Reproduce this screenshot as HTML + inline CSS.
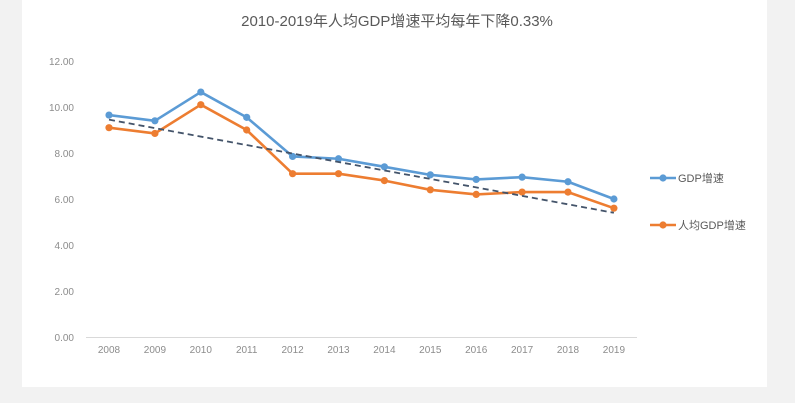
<!DOCTYPE html>
<html><head><meta charset="utf-8">
<style>
body{margin:0;width:795px;height:403px;background:#f2f2f2;overflow:hidden;font-family:"Liberation Sans","Noto Sans CJK SC",sans-serif}
#panel{position:absolute;left:22px;top:0;width:745px;height:387px;background:#fff}
svg{position:absolute;left:0;top:0}
</style></head><body>
<div id="panel"></div>
<svg id="chart" width="795" height="403"></svg>
<script>
const years=["2008","2009","2010","2011","2012","2013","2014","2015","2016","2017","2018","2019"];
const gdp=[9.65,9.4,10.65,9.55,7.85,7.75,7.4,7.05,6.85,6.95,6.75,6.0];
const perCapita=[9.1,8.85,10.1,9.0,7.1,7.1,6.8,6.4,6.2,6.3,6.3,5.6];
const trend=[9.45,5.4];
const yTicks=[0,2,4,6,8,10,12];
const NS="http://www.w3.org/2000/svg";
const svg=document.getElementById('chart');
const x=i=>109+i*45.9;
const y=v=>337-v*23;
function mk(t,a,p){const e=document.createElementNS(NS,t);for(const k in a)e.setAttribute(k,a[k]);(p||svg).appendChild(e);return e;}
const title=mk('text',{x:397,y:26,'text-anchor':'middle','font-size':15,fill:'#595959'});
title.textContent='2010-2019年人均GDP增速平均每年下降0.33%';


yTicks.forEach(v=>{const t=mk('text',{x:74,y:y(v)+4,'text-anchor':'end','font-size':10,fill:'#8c8c8c'});t.textContent=v.toFixed(2);

});
const ax=mk('line',{x1:86,y1:337.5,x2:637,y2:337.5,stroke:'#d9d9d9'});


years.forEach((yr,i)=>{const t=mk('text',{x:x(i),y:353,'text-anchor':'middle','font-size':10,fill:'#8c8c8c'});t.textContent=yr;

});
function series(vals,color,name){const g=mk('g',{});


mk('polyline',{points:vals.map((v,i)=>x(i)+','+y(v)).join(' '),fill:'none',stroke:color,'stroke-width':2.6,'stroke-linejoin':'round'},g);
vals.forEach((v,i)=>{const c=mk('circle',{cx:x(i),cy:y(v),r:3.6,fill:color},g);

});}
series(gdp,'#5b9bd5','gdp-growth-line');
series(perCapita,'#ed7d31','per-capita-gdp-line');
const tl=mk('line',{x1:x(0),y1:y(trend[0]),x2:x(years.length-1),y2:y(trend[1]),stroke:'#44546a','stroke-width':1.8,'stroke-dasharray':'6,4'});


function legend(ly,color,label,name){const g=mk('g',{});


mk('line',{x1:650,y1:ly,x2:676,y2:ly,stroke:color,'stroke-width':2.6},g);
mk('circle',{cx:663,cy:ly,r:3.6,fill:color},g);
const t=mk('text',{x:678,y:ly+4,'font-size':11,fill:'#595959'},g);t.textContent=label;}
legend(178,'#5b9bd5','GDP增速','legend-gdp');
legend(225,'#ed7d31','人均GDP增速','legend-per-capita');
</script>
</body></html>
